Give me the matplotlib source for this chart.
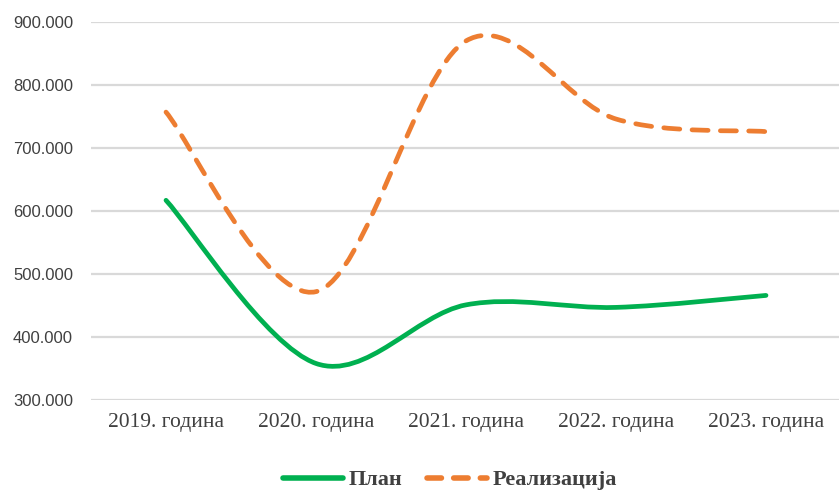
import numpy as np
import matplotlib
matplotlib.use("Agg")
import matplotlib.pyplot as plt
from matplotlib.path import Path
from matplotlib.patches import PathPatch
from matplotlib.lines import Line2D
from matplotlib.ticker import FuncFormatter

years = ["2019. година", "2020. година", "2021. година", "2022. година", "2023. година"]
plan = [617000, 358000, 451000, 447000, 466000]
realizacija = [757000, 472000, 870000, 746000, 726000]

GREEN = "#00B050"
ORANGE = "#ED7D31"


def smooth_path(xs, ys):
    """Excel-like smoothed line: Catmull-Rom segments as cubic Bezier"""
    pts = np.column_stack([xs, ys]).astype(float)
    n = len(pts)
    verts = [pts[0]]
    codes = [Path.MOVETO]
    for i in range(n - 1):
        p0 = pts[i - 1] if i > 0 else pts[i]
        p1 = pts[i]
        p2 = pts[i + 1]
        p3 = pts[i + 2] if i + 2 < n else pts[i + 1]
        c1 = p1 + (p2 - p0) / 6
        c2 = p2 - (p3 - p1) / 6
        verts += [c1, c2, p2]
        codes += [Path.CURVE4] * 3
    return Path(verts, codes)


fig = plt.figure(figsize=(8.39, 4.94), dpi=100)
ax = fig.add_axes([91 / 839, 1 - 400 / 494, 750 / 839, 378 / 494])

x = np.arange(len(years))
p1 = PathPatch(smooth_path(x, plan), facecolor="none", edgecolor=GREEN,
               linewidth=3.4, capstyle="round", joinstyle="round")
p2 = PathPatch(smooth_path(x, realizacija), facecolor="none", edgecolor=ORANGE,
               linewidth=3.4, capstyle="round", joinstyle="round",
               linestyle=(0, (3.4, 2.6)))
ax.add_patch(p1)
ax.add_patch(p2)

ax.set_xlim(-0.5, len(years) - 0.5)
ax.set_ylim(300000, 900000)
ax.set_yticks(np.arange(300000, 900001, 100000))
ax.yaxis.set_major_formatter(FuncFormatter(lambda v, _: f"{int(v / 1000)}.000"))
ax.set_xticks(x)
ax.set_xticklabels(years, fontfamily="Liberation Serif", fontsize=15.5, color="#404040")
for lbl in ax.get_yticklabels():
    lbl.set_fontfamily("Liberation Sans")
    lbl.set_fontsize(12)
    lbl.set_color("#404040")

ax.grid(axis="y", color="#D9D9D9", linewidth=1.6)
ax.set_axisbelow(True)
for s in ax.spines.values():
    s.set_visible(False)
ax.tick_params(axis="both", length=0)
ax.tick_params(axis="y", pad=13)
ax.tick_params(axis="x", pad=9)

handles = [
    Line2D([], [], color=GREEN, linewidth=4, solid_capstyle="round"),
    Line2D([], [], color=ORANGE, linewidth=4, linestyle=(0, (2.6, 2.2)), dash_capstyle="round"),
]
leg = fig.legend(handles, ["План", "Реализација"], loc="center", ncol=2,
                 bbox_to_anchor=(0.536, 1 - 480 / 494), frameon=False, handlelength=2.7,
                 columnspacing=1.1, handletextpad=0.25,
                 prop={"family": "Liberation Serif", "weight": "bold", "size": 16})
for t in leg.get_texts():
    t.set_color("#404040")

fig.savefig("out.png", dpi=100)
